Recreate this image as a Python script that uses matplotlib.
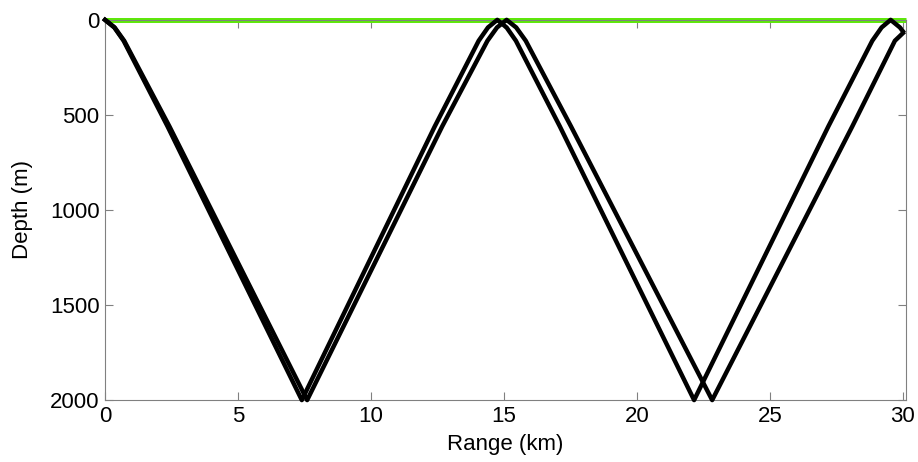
import matplotlib
matplotlib.use('Agg')
import matplotlib.pyplot as plt

plt.rcParams['font.family'] = ['Liberation Sans', 'DejaVu Sans']

# Ray points (range in km, depth in m)
ray1_range = [0, 0.35, 0.7, 2.35, 7.4, 12.4, 14.05, 14.4, 14.75, 15.1, 15.45,
              17.1, 22.15, 27.2, 28.85, 29.2, 29.54, 29.89, 30.0]
ray1_depth = [0, 40, 110, 560, 2000, 560, 110, 40, 0, 40, 110,
              560, 2000, 560, 110, 40, 0, 40, 60]

ray2_range = [0, 0.36, 0.72, 2.42, 7.6, 12.68, 14.38, 14.74, 15.1, 15.46, 15.82,
              17.52, 22.83, 28.1, 29.7, 30.0]
ray2_depth = [0, 40, 110, 560, 2000, 560, 110, 40, 0, 40, 110,
              560, 2000, 560, 110, 70]

surface_range = [0, 30.1]
surface_depth = [0, 0]

x_ticks = [0, 5, 10, 15, 20, 25, 30]
y_ticks = [0, 500, 1000, 1500, 2000]

fig = plt.figure(figsize=(9.18, 4.62), dpi=100)
ax = fig.add_axes([0.1144, 0.134, 0.872, 0.823])

# sea surface
ax.plot(surface_range, surface_depth, color='#5ee80a', lw=3.6, zorder=2,
        solid_capstyle='butt', clip_on=False)

# rays
for r, d in [(ray1_range, ray1_depth), (ray2_range, ray2_depth)]:
    ax.plot(r, d, color='black', lw=3.2, zorder=3, solid_joinstyle='round',
            clip_on=False)

ax.set_xlim(0, 30.1)
ax.set_ylim(2000, 0)
ax.set_xticks(x_ticks)
ax.set_yticks(y_ticks)

ax.set_xlabel('Range (km)', fontsize=16, labelpad=5)
ax.set_ylabel('Depth (m)', fontsize=16, labelpad=12)

ax.tick_params(direction='in', length=6, width=0.8, color='#808080',
               labelsize=16, top=True, right=True, pad=4)
for spine in ax.spines.values():
    spine.set_color('#808080')
    spine.set_linewidth(0.8)

fig.savefig('out.png', dpi=100, facecolor='white')
